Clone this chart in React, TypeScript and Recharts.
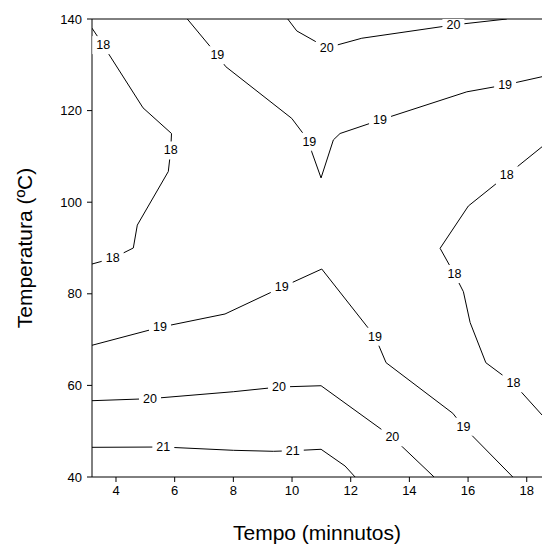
import React from 'react'
import {
  ComposedChart, Line, Scatter, XAxis, YAxis, ReferenceLine,
} from 'recharts'

// contour lines, x = tempo (min), y = temperatura (ºC)
const c18a = [
  { x: 3.182, y: 138.0 }, { x: 3.567, y: 134.3 }, { x: 3.727, y: 132.6 },
  { x: 4.921, y: 120.6 }, { x: 5.892, y: 115.0 }, { x: 5.865, y: 111.3 },
  { x: 5.783, y: 106.7 }, { x: 4.726, y: 95.0 }, { x: 4.59, y: 90.0 },
  { x: 3.887, y: 87.75 }, { x: 3.182, y: 86.5 },
]
const c19a = [
  { x: 6.431, y: 140.0 }, { x: 7.454, y: 132.1 }, { x: 7.74, y: 129.6 },
  { x: 9.99, y: 118.3 }, { x: 10.59, y: 113.2 }, { x: 10.672, y: 111.0 },
  { x: 10.989, y: 105.3 }, { x: 11.409, y: 113.6 }, { x: 11.637, y: 115.0 },
  { x: 13.0, y: 117.95 }, { x: 15.957, y: 124.1 }, { x: 17.263, y: 125.6 },
  { x: 18.52, y: 127.4 },
]
const c20a = [
  { x: 9.854, y: 140.0 }, { x: 10.161, y: 137.4 }, { x: 11.184, y: 133.7 },
  { x: 12.377, y: 135.8 }, { x: 15.5, y: 138.7 }, { x: 17.32, y: 140.0 },
]
const c18b = [
  { x: 18.52, y: 112.1 }, { x: 17.32, y: 105.9 }, { x: 16.01, y: 99.17 },
  { x: 15.047, y: 89.93 }, { x: 15.534, y: 84.32 }, { x: 15.841, y: 80.46 },
  { x: 16.07, y: 73.73 }, { x: 16.605, y: 64.96 }, { x: 17.546, y: 60.46 },
  { x: 18.52, y: 53.54 },
]
const c19b = [
  { x: 3.182, y: 68.76 }, { x: 5.5, y: 72.69 }, { x: 7.716, y: 75.59 },
  { x: 9.649, y: 81.42 }, { x: 11.013, y: 85.41 }, { x: 12.83, y: 70.63 },
  { x: 13.205, y: 64.96 }, { x: 15.48, y: 53.91 }, { x: 15.841, y: 50.98 },
  { x: 17.525, y: 40.0 },
]
const c20b = [
  { x: 3.182, y: 56.66 }, { x: 5.159, y: 57.1 }, { x: 7.999, y: 58.62 },
  { x: 9.557, y: 59.65 }, { x: 10.99, y: 59.93 }, { x: 13.42, y: 48.67 },
  { x: 14.842, y: 40.0 },
]
const c21 = [
  { x: 3.182, y: 46.48 }, { x: 5.613, y: 46.55 }, { x: 7.999, y: 45.83 },
  { x: 9.363, y: 45.61 }, { x: 10.025, y: 45.74 }, { x: 10.99, y: 46.05 },
  { x: 11.808, y: 42.4 }, { x: 12.149, y: 40.0 },
]
const contours = [c18a, c19a, c20a, c18b, c19b, c20b, c21]

const labels = [
  { x: 3.567, y: 134.3, v: 18 }, { x: 5.865, y: 111.3, v: 18 }, { x: 3.887, y: 87.75, v: 18 },
  { x: 7.454, y: 132.1, v: 19 }, { x: 10.59, y: 113.2, v: 19 }, { x: 13.0, y: 117.95, v: 19 },
  { x: 17.263, y: 125.6, v: 19 },
  { x: 11.184, y: 133.7, v: 20 }, { x: 15.5, y: 138.7, v: 20 },
  { x: 17.32, y: 105.9, v: 18 }, { x: 15.534, y: 84.32, v: 18 }, { x: 17.546, y: 60.46, v: 18 },
  { x: 5.5, y: 72.69, v: 19 }, { x: 9.649, y: 81.42, v: 19 }, { x: 12.83, y: 70.63, v: 19 },
  { x: 15.841, y: 50.98, v: 19 },
  { x: 5.159, y: 57.1, v: 20 }, { x: 9.557, y: 59.65, v: 20 }, { x: 13.42, y: 48.67, v: 20 },
  { x: 5.613, y: 46.55, v: 21 }, { x: 10.025, y: 45.74, v: 21 },
]

const xTicks = [4, 6, 8, 10, 12, 14, 16, 18]
const yTicks = [40, 60, 80, 100, 120, 140]

const FONT = '"Liberation Sans", Arial, sans-serif'

function ContourLabel(props: any) {
  const { cx, cy, payload } = props
  if (cx == null || cy == null) return null
  return (
    <g>
      <rect x={cx - 11} y={cy - 9} width={22} height={18} fill="#fff" />
      <text x={cx} y={cy} textAnchor="middle" dominantBaseline="central"
        fontFamily={FONT} fontSize={12.5} fill="#000">
        {payload.v}
      </text>
    </g>
  )
}

export default function App() {
  const tick = { fontFamily: FONT, fontSize: 13, fill: '#000' }
  return (
    <div style={{ position: 'absolute', left: 0, top: 0, width: 542, height: 547, background: '#fff' }}>
      <ComposedChart width={542} height={547} margin={{ top: 19, right: 0, bottom: 0, left: 0 }}>
        <XAxis
          dataKey="x" type="number" domain={[3.182, 18.52]} allowDataOverflow
          ticks={xTicks} tick={tick} tickSize={5} tickMargin={4} height={70}
          axisLine={{ stroke: '#000' }} tickLine={{ stroke: '#000' }}
          label={{ value: 'Tempo (minnutos)', position: 'insideBottom', offset: 7,
            style: { fontFamily: FONT, fontSize: 21, fill: '#000' } }}
        />
        <YAxis
          dataKey="y" type="number" domain={[40, 140]} allowDataOverflow
          ticks={yTicks} tick={tick} tickSize={5} tickMargin={5} width={92}
          axisLine={{ stroke: '#000' }} tickLine={{ stroke: '#000' }}
          label={{ value: 'Temperatura (ºC)', angle: -90, position: 'insideLeft', offset: 25,
            style: { fontFamily: FONT, fontSize: 21, fill: '#000', textAnchor: 'middle' } }}
        />
        <ReferenceLine y={140} stroke="#000" strokeWidth={1} />
        {contours.map((d, i) => (
          <Line key={i} data={d} dataKey="y" type="linear" stroke="#000" strokeWidth={1}
            dot={false} activeDot={false} isAnimationActive={false} />
        ))}
        <Scatter data={labels} dataKey="y" shape={<ContourLabel />} isAnimationActive={false} />
      </ComposedChart>
    </div>
  )
}
